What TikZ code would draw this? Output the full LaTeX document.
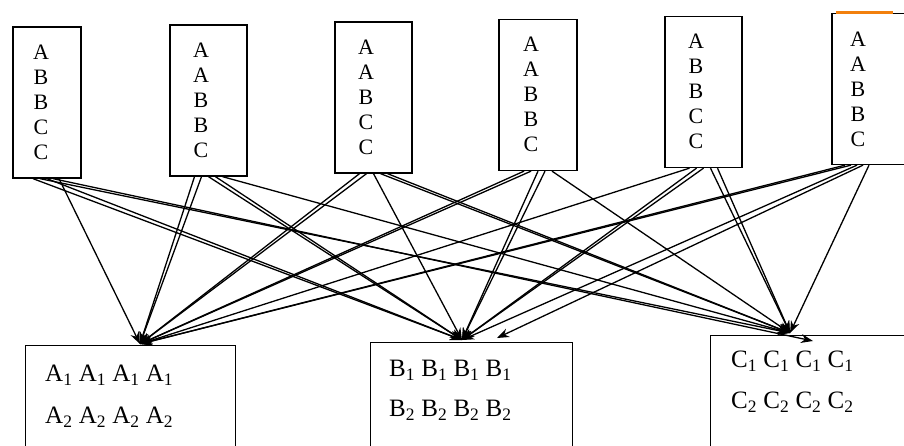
\documentclass[tikz,border=0pt]{standalone}
\usepackage{fontspec}
\setmainfont{Liberation Serif}
\usetikzlibrary{arrows.meta}
\begin{document}
\begin{tikzpicture}[x=1pt,y=-1pt,
  topbox/.style={draw, line width=1.3pt, inner sep=0pt, minimum height=151pt},
  toplbl/.style={align=center, font=\fontsize{22}{25}\selectfont, inner sep=0pt},
  botbox/.style={draw, line width=1.3pt, inner sep=0pt, anchor=north west, minimum height=130pt},
  botlbl/.style={align=left, anchor=west, inner sep=0pt},
  link/.style={line width=1.3pt, -{Stealth[length=12pt,width=9pt]}}
]
\useasboundingbox (0,0) rectangle (904,445);
\clip (0,0) rectangle (904,445);

% top boxes
\node[topbox, minimum width=68pt] (t1) at (47,102.5) {};
\node[topbox, minimum width=77pt] (t2) at (208.5,100.5) {};
\node[topbox, minimum width=77pt] (t3) at (373.5,97.5) {};
\node[topbox, minimum width=78pt] (t4) at (538,95) {};
\node[topbox, minimum width=77pt] (t5) at (703.5,92) {};
\node[topbox, minimum width=78pt] (t6) at (871,89) {};
\draw[orange!80!brown, line width=2.5pt] (836,12.5) -- (893,12.5);

\node[toplbl] (l1) at (41,102) {A\\B\\B\\C\\C};
\node[toplbl] (l2) at (201,100) {A\\A\\B\\B\\C};
\node[toplbl] (l3) at (366,97) {A\\A\\B\\C\\C};
\node[toplbl] (l4) at (531,94) {A\\A\\B\\B\\C};
\node[toplbl] (l5) at (696,91) {A\\B\\B\\C\\C};
\node[toplbl] (l6) at (858,89) {A\\A\\B\\B\\C};

% bottom boxes
\node[botbox, minimum width=210pt] (ba) at (25,345) {};
\node[botbox, minimum width=202pt] (bb) at (370,342) {};
\node[botbox, minimum width=210pt] (bc) at (710,335) {};

\node[botlbl, font=\fontsize{25}{42}\selectfont] (la) at (45,396)
  {A\textsubscript{1} A\textsubscript{1} A\textsubscript{1} A\textsubscript{1}\\
   A\textsubscript{2} A\textsubscript{2} A\textsubscript{2} A\textsubscript{2}};
\node[botlbl, font=\fontsize{25}{40}\selectfont] (lb) at (389,390)
  {B\textsubscript{1} B\textsubscript{1} B\textsubscript{1} B\textsubscript{1}\\
   B\textsubscript{2} B\textsubscript{2} B\textsubscript{2} B\textsubscript{2}};
\node[botlbl, font=\fontsize{25}{41}\selectfont] (lc) at (731,382)
  {C\textsubscript{1} C\textsubscript{1} C\textsubscript{1} C\textsubscript{1}\\
   C\textsubscript{2} C\textsubscript{2} C\textsubscript{2} C\textsubscript{2}};

% convergence points
\coordinate (ta) at (140,344);
\coordinate (tb) at (462,340);
\coordinate (tb2) at (497,338);
\coordinate (tc) at (790,333);
\coordinate (tc2) at (813,341);

% connectors: one per letter in each top box
\foreach \b/\off/\t in {
  1/12/ta, 1/-14/tb, 1/-7/tc, 1/0/tb, 1/6/tc2,
  2/-14/ta, 2/-7/ta, 2/0/tb, 2/7/tb, 2/14/tc,
  3/-14/ta, 3/-7/ta, 3/0/tb, 3/7/tc, 3/14/tc,
  4/-14/ta, 4/-7/ta, 4/0/tb, 4/7/tb, 4/14/tc,
  5/-14/ta, 5/-7/tb, 5/0/tb, 5/7/tc, 5/14/tc,
  6/-26/ta, 6/-20/ta, 6/-14/tb, 6/-8/tb2, 6/-2/tc}
  \draw[link] ([xshift=\off pt]t\b.south) -- (\t);
\end{tikzpicture}
\end{document}
